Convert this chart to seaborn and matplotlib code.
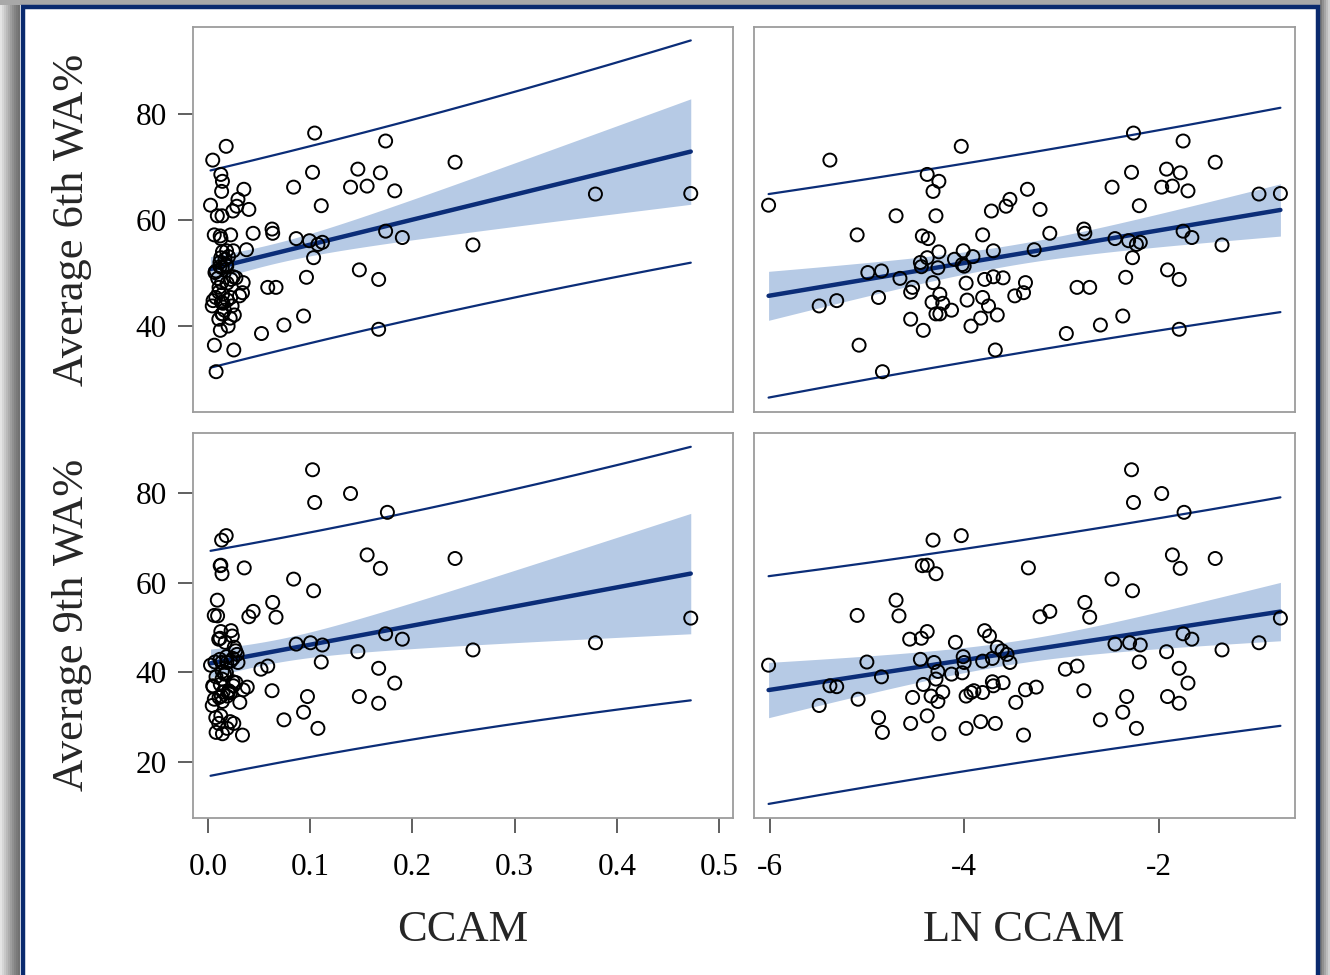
import numpy as np
import pandas as pd
import matplotlib
matplotlib.use("Agg")
import matplotlib.pyplot as plt
import seaborn as sns
from matplotlib.patches import Rectangle

# LN CCAM and Average 6th WA%
ln_ccam_6 = [-6.01, -5.38, -4.03, -4.38, -4.26, -4.32, -4.70, -4.29, -3.72, -3.57, -3.53, -3.35,
             -3.22, -2.48, -2.28, -2.26, -2.20, -1.97, -1.92, -1.86, -1.78, -1.75, -1.70, -1.42, -0.97, -0.75,
             -5.10, -4.43, -4.37, -3.81, -4.26, -4.01, -3.70, -3.28, -4.38, -4.45, -4.10, -3.91, -4.02, -4.00,
             -4.44, -4.27, -4.99, -4.85, -4.66, -4.32, -3.98, -3.79, -3.70, -3.60, -3.37, -3.39, -3.48, -4.53,
             -4.55, -4.88, -5.49, -5.31, -4.25, -4.33, -4.22, -3.97, -3.81, -3.75, -4.29, -4.25, -4.13, -3.66,
             -3.83, -4.55, -3.93, -4.42, -5.08, -3.68, -4.84,
             -3.12, -2.77, -2.76, -2.45, -2.31, -2.23, -2.19, -1.75, -1.66, -1.35, -2.27, -2.34, -1.91, -1.79,
             -2.84, -2.71, -2.37, -2.60, -2.95, -1.79]
wa_6th = [62.8, 71.3, 73.9, 68.6, 67.3, 65.4, 60.8, 60.8, 61.7, 62.6, 63.9, 65.8,
          62.0, 66.2, 69.0, 76.4, 62.7, 66.2, 69.6, 66.4, 68.9, 74.9, 65.5, 70.9, 64.9, 65.0,
          57.2, 57.0, 56.5, 57.2, 54.0, 54.2, 54.2, 54.4, 52.9, 52.0, 52.6, 53.1, 51.6, 51.3,
          51.2, 51.0, 50.1, 50.4, 49.0, 48.2, 48.1, 48.8, 49.3, 49.1, 48.2, 46.3, 45.7, 47.3,
          46.4, 45.4, 43.8, 44.8, 46.0, 44.5, 44.3, 44.9, 45.4, 43.8, 42.3, 42.3, 43.0, 42.1,
          41.5, 41.3, 40.0, 39.2, 36.4, 35.5, 31.4,
          57.5, 58.3, 57.5, 56.5, 56.1, 55.4, 55.8, 57.9, 56.7, 55.3, 52.9, 49.2, 50.6, 48.8,
          47.3, 47.3, 41.9, 40.2, 38.6, 39.4]

# LN CCAM and Average 9th WA%
ln_ccam_9 = [-4.32, -4.03, -4.43, -4.38, -4.29, -3.34, -4.70, -5.10, -4.67,
             -2.28, -1.97, -2.26, -1.74, -1.86, -1.78, -1.42, -2.48, -2.27, -2.76, -3.22, -3.12, -2.71, -0.75,
             -4.56, -4.44, -4.38, -3.79, -3.74, -4.09, -3.66, -3.61, -3.56, -3.53, -3.81, -3.71, -4.01, -4.00,
             -4.45, -4.31, -4.27, -4.13, -4.02, -4.29, -4.42, -6.01, -5.00, -4.85, -5.38, -5.31, -5.49, -5.09,
             -4.88, -4.84, -4.53, -4.34, -4.27, -4.22, -4.38, -4.55, -4.26, -3.98, -3.93, -3.90, -3.81, -3.71,
             -3.70, -3.60, -3.98, -3.83, -3.68, -3.47, -3.37, -3.39,
             -2.45, -2.30, -2.19, -1.75, -1.66, -1.92, -1.35, -0.97, -2.20, -1.79, -1.70, -2.96, -2.84, -3.26,
             -2.77, -2.33, -1.91, -1.79, -2.37, -2.60, -2.23]
wa_9th = [69.5, 70.5, 63.8, 63.9, 62.0, 63.3, 56.1, 52.7, 52.6,
          85.2, 79.9, 77.9, 75.7, 66.2, 63.2, 65.4, 60.8, 58.2, 55.6, 52.4, 53.6, 52.3, 52.1,
          47.4, 47.6, 49.1, 49.3, 48.1, 46.7, 45.6, 44.8, 44.0, 42.2, 42.5, 43.1, 43.5, 42.2,
          42.9, 42.2, 40.2, 39.6, 39.9, 38.5, 37.3, 41.6, 42.3, 39.0, 37.0, 36.8, 32.6, 34.0,
          29.9, 26.6, 34.4, 34.7, 33.5, 35.6, 30.3, 28.6, 26.3, 34.7, 35.5, 35.9, 35.5, 37.9,
          37.0, 37.7, 27.5, 29.0, 28.6, 33.3, 36.1, 26.0,
          46.3, 46.6, 46.1, 48.6, 47.4, 44.6, 45.0, 46.6, 42.3, 40.9, 37.6, 40.7, 41.4, 36.7,
          35.9, 34.6, 34.6, 33.1, 31.1, 29.4, 27.5]

ccam_ticks = [0.0, 0.1, 0.2, 0.3, 0.4, 0.5]
ln_ticks = [-6, -4, -2]

df6 = pd.DataFrame({"ln_ccam": ln_ccam_6, "wa": wa_6th})
df6["ccam"] = np.exp(df6["ln_ccam"])
df9 = pd.DataFrame({"ln_ccam": ln_ccam_9, "wa": wa_9th})
df9["ccam"] = np.exp(df9["ln_ccam"])

NAVY = "#0b2d78"
BAND = "#b6cae5"
SERIF = ["Liberation Serif", "DejaVu Serif"]
T975 = 1.986  # t quantile, ~93 df

sns.set_style("ticks")
plt.rcParams["font.family"] = SERIF


def panel(ax, df, X):
    x = df[X].values
    y = df["wa"].values
    n = len(x)
    m, b = np.polyfit(x, y, 1)
    s = np.sqrt(np.sum((y - (m * x + b)) ** 2) / (n - 2))
    sxx = np.sum((x - x.mean()) ** 2)
    xs = np.linspace(x.min(), x.max(), 200)
    fit = m * xs + b
    ci = T975 * s * np.sqrt(1 / n + (xs - x.mean()) ** 2 / sxx)
    pi = T975 * s * np.sqrt(1 + 1 / n + (xs - x.mean()) ** 2 / sxx)
    # confidence band of the mean
    ax.fill_between(xs, fit - ci, fit + ci, color=BAND, lw=0, zorder=1)
    sns.regplot(data=df, x=X, y="wa", ax=ax, ci=None, color=NAVY,
                scatter_kws=dict(facecolors="none", edgecolors="black", s=88, linewidths=1.4,
                                 alpha=1, zorder=4),
                line_kws=dict(lw=3.2, zorder=3))
    # prediction interval
    ax.plot(xs, fit + pi, color=NAVY, lw=1.6, zorder=3)
    ax.plot(xs, fit - pi, color=NAVY, lw=1.6, zorder=3)
    ax.set_xlabel("")
    ax.set_ylabel("")
    for sp in ax.spines.values():
        sp.set_visible(True)
        sp.set_color("#9c9c9c")
        sp.set_linewidth(1.3)
    ax.tick_params(length=11, width=1.2, color="#444444", labelsize=22.5, labelcolor="black")
    ax.tick_params(axis="x", pad=14)
    ax.tick_params(axis="y", pad=8)


W, H = 1330, 975
fig = plt.figure(figsize=(13.3, 9.75), dpi=100)


def rect(l, r, t, b):
    return [l / W, 1 - b / H, (r - l) / W, (b - t) / H]


ax_tl = fig.add_axes(rect(193, 733, 27, 412))
ax_tr = fig.add_axes(rect(754, 1295, 27, 412))
ax_bl = fig.add_axes(rect(193, 733, 433, 818))
ax_br = fig.add_axes(rect(754, 1295, 433, 818))

panel(ax_tl, df6, "ccam")
panel(ax_tr, df6, "ln_ccam")
panel(ax_bl, df9, "ccam")
panel(ax_br, df9, "ln_ccam")

for ax in (ax_tl, ax_bl):
    ax.set_xlim(-0.0147, 0.5137)
for ax in (ax_tr, ax_br):
    ax.set_xlim(-6.16, -0.60)
for ax in (ax_tl, ax_tr):
    ax.set_ylim(23.8, 96.4)
    ax.tick_params(axis="x", bottom=False, labelbottom=False)
for ax in (ax_bl, ax_br):
    ax.set_ylim(7.5, 93.4)
for ax in (ax_tr, ax_br):
    ax.tick_params(axis="y", left=False, labelleft=False)

ax_tl.set_yticks([40, 60, 80])
ax_bl.set_yticks([20, 40, 60, 80])
ax_bl.set_xticks(ccam_ticks)
ax_bl.set_xticklabels([f"{v:.1f}" for v in ccam_ticks])
ax_br.set_xticks(ln_ticks)
ax_br.set_xticklabels([str(v) for v in ln_ticks])

fig.text(72 / W, 1 - 220 / H, "Average 6th WA%", rotation=90, ha="center", va="center", fontsize=32)
fig.text(72 / W, 1 - 625 / H, "Average 9th WA%", rotation=90, ha="center", va="center", fontsize=32)
fig.text(463 / W, 1 - 930 / H, "CCAM", ha="center", va="center", fontsize=32)
fig.text(1024 / W, 1 - 930 / H, "LN CCAM", ha="center", va="center", fontsize=32)

# frame with shadow
grays = ["#e4e4e4", "#d6d6d6", "#c8c8c8", "#bababa", "#acacac", "#9e9e9e", "#909090", "#848484", "#7a7a7a", "#727272"]
for i, g in enumerate(grays):
    fig.add_artist(Rectangle(((2 * i) / W, 0), 2 / W, 1, transform=fig.transFigure, color=g, lw=0, zorder=0))
fig.add_artist(Rectangle((0, 1 - 5 / H), 1, 5 / H, transform=fig.transFigure, color="#a8a8a8", lw=0, zorder=0))
for i, g in enumerate(["#7a7a7a", "#909090", "#a6a6a6", "#bcbcbc", "#d2d2d2"]):
    fig.add_artist(Rectangle((1 - (10 - 2 * i) / W, 0), 2 / W, 1, transform=fig.transFigure, color=g, lw=0, zorder=0))
fig.add_artist(Rectangle((22.5 / W, -0.05), 1295 / W, 1.05 - 7 / H, transform=fig.transFigure,
                         fill=False, edgecolor="#0a2a6e", lw=3.2, zorder=1))

fig.savefig("out.png", dpi=100, facecolor="white")
